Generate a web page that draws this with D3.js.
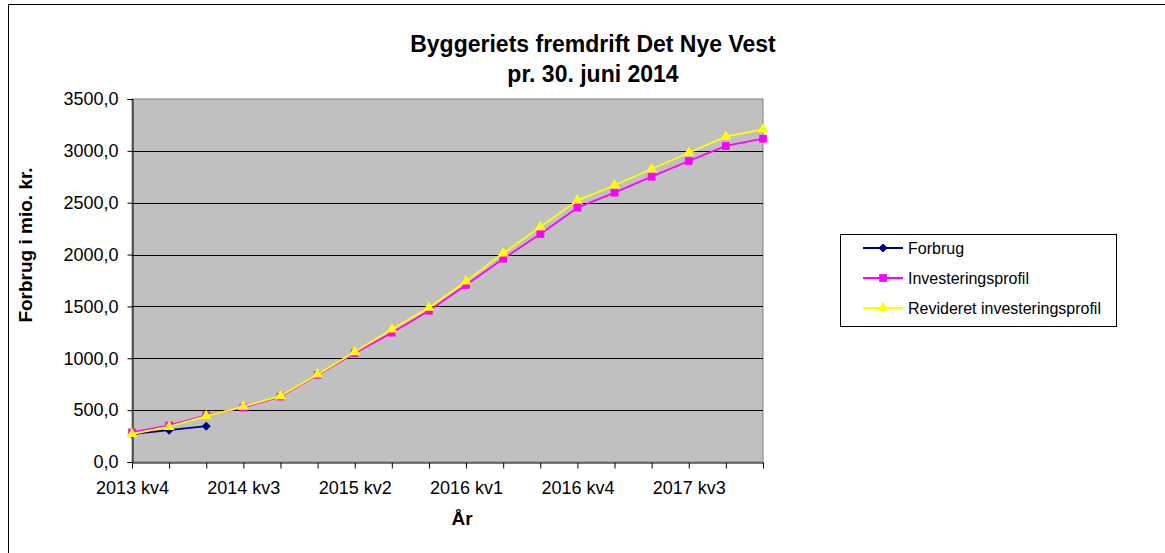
<!DOCTYPE html>
<html>
<head>
<meta charset="utf-8">
<script src="https://cdn.jsdelivr.net/npm/d3@7"></script>
<style>
  body { margin: 0; background: #fff; }
  text { font-family: "Liberation Sans", Arial, sans-serif; }
</style>
</head>
<body>
<div id="chart"></div>
<script>
// quarters on the x axis
const categories = ["2013 kv4", "2014 kv1", "2014 kv2", "2014 kv3", "2014 kv4",
    "2015 kv1", "2015 kv2", "2015 kv3", "2015 kv4", "2016 kv1", "2016 kv2",
    "2016 kv3", "2016 kv4", "2017 kv1", "2017 kv2", "2017 kv3", "2017 kv4", "2018 kv1"];

// only every third quarter gets a label
const tickLabels = ["2013 kv4", "2014 kv3", "2015 kv2", "2016 kv1", "2016 kv4", "2017 kv3"];
const yTicks = [0, 500, 1000, 1500, 2000, 2500, 3000, 3500];

// mio. kr.
const forbrug = [270, 308, 345];
const investering = [285, 352, 450, 525, 630, 840, 1050, 1247, 1459, 1707, 1960, 2198,
    2452, 2597, 2751, 2902, 3047, 3117];
const revideret = [270, 340, 443, 535, 636, 845, 1060, 1280, 1488, 1742, 2012, 2266,
    2520, 2668, 2825, 2982, 3137, 3208];

const width = 1165;
const height = 553;
const plot = { left: 132, right: 763, top: 99, bottom: 462 };

const svg = d3.select("#chart").append("svg")
    .attr("width", width)
    .attr("height", height);

// outer chart border (runs off the right and bottom edge)
svg.append("rect")
    .attr("x", 8.5).attr("y", 4.5)
    .attr("width", 1200).attr("height", 600)
    .attr("fill", "#fff")
    .attr("stroke", "#000");

const x = d3.scalePoint().domain(categories).range([plot.left, plot.right]);
const y = d3.scaleLinear().domain([0, 3500]).range([plot.bottom, plot.top]);

// grey plot area
svg.append("rect")
    .attr("x", plot.left).attr("y", plot.top)
    .attr("width", plot.right - plot.left)
    .attr("height", plot.bottom - plot.top)
    .attr("fill", "#c0c0c0")
    .attr("stroke", "#808080");

// gridlines
svg.append("g")
    .selectAll("line")
    .data(yTicks.filter(d => d > 0 && d < 3500))
    .enter().append("line")
    .attr("x1", plot.left).attr("x2", plot.right)
    .attr("y1", d => Math.round(y(d)) + 0.5)
    .attr("y2", d => Math.round(y(d)) + 0.5)
    .attr("stroke", "#000");

// y axis
const yAxis = svg.append("g")
    .attr("transform", `translate(${plot.left + 0.5},0)`)
    .call(d3.axisLeft(y).tickValues(yTicks).tickSize(5).tickPadding(9)
        .tickFormat(d => d3.format(".1f")(d).replace(".", ",")));
yAxis.select(".domain").attr("stroke", "#000");
yAxis.selectAll("text").attr("font-size", 18).attr("fill", "#000")
    .style("font-family", "'Liberation Sans', Arial, sans-serif");

// x axis
const xAxis = svg.append("g")
    .attr("transform", `translate(0,${plot.bottom + 0.5})`)
    .call(d3.axisBottom(x).tickSize(6).tickPadding(13).tickSizeOuter(0)
        .tickFormat(d => tickLabels.includes(d) ? d : ""));
xAxis.select(".domain").attr("stroke", "#000");
xAxis.selectAll("text").attr("font-size", 18).attr("fill", "#000")
    .style("font-family", "'Liberation Sans', Arial, sans-serif");

// titles
svg.append("text")
    .attr("x", 593).attr("y", 52)
    .attr("text-anchor", "middle")
    .attr("font-size", 23).attr("font-weight", "bold")
    .text("Byggeriets fremdrift Det Nye Vest");
svg.append("text")
    .attr("x", 593).attr("y", 82)
    .attr("text-anchor", "middle")
    .attr("font-size", 23).attr("font-weight", "bold")
    .text("pr. 30. juni 2014");

svg.append("text")
    .attr("transform", "translate(32,245) rotate(-90)")
    .attr("text-anchor", "middle")
    .attr("font-size", 19).attr("font-weight", "bold")
    .text("Forbrug i mio. kr.");

svg.append("text")
    .attr("x", 462).attr("y", 525)
    .attr("text-anchor", "middle")
    .attr("font-size", 19).attr("font-weight", "bold")
    .text("År");

// series (diamond = square turned 45 degrees, like Excel's marker)
const series = [
    { name: "Forbrug", values: forbrug, color: "#000080", symbol: d3.symbolSquare, size: 42, rotate: 45 },
    { name: "Investeringsprofil", values: investering, color: "#ff00ff", symbol: d3.symbolSquare, size: 60, rotate: 0 },
    { name: "Revideret investeringsprofil", values: revideret, color: "#ffff00", symbol: d3.symbolTriangle, size: 52, rotate: 0 }
];

const line = d3.line()
    .x((d, i) => x(categories[i]))
    .y(d => y(d));

series.forEach(s => {
    const g = svg.append("g");
    g.append("path")
        .datum(s.values)
        .attr("d", line)
        .attr("fill", "none")
        .attr("stroke", s.color)
        .attr("stroke-width", 1.8);
    g.selectAll("path.marker")
        .data(s.values)
        .enter().append("path")
        .attr("class", "marker")
        .attr("transform", (d, i) => `translate(${x(categories[i])},${y(d)}) rotate(${s.rotate})`)
        .attr("d", d3.symbol().type(s.symbol).size(s.size))
        .attr("fill", s.color);
});

// legend
const legend = svg.append("g");
legend.append("rect")
    .attr("x", 840.5).attr("y", 234.5)
    .attr("width", 276).attr("height", 92)
    .attr("fill", "#fff")
    .attr("stroke", "#000");

const item = legend.selectAll("g.item")
    .data(series)
    .enter().append("g")
    .attr("class", "item")
    .attr("transform", (d, i) => `translate(0,${248 + i * 30})`);
item.append("line")
    .attr("x1", 863).attr("x2", 903)
    .attr("stroke", d => d.color)
    .attr("stroke-width", 1.8);
item.append("path")
    .attr("transform", d => `translate(883,0) rotate(${d.rotate})`)
    .attr("d", d => d3.symbol().type(d.symbol).size(d.size)())
    .attr("fill", d => d.color);
item.append("text")
    .attr("x", 908).attr("dy", "0.35em")
    .attr("font-size", 16)
    .text(d => d.name);
</script>
</body>
</html>
